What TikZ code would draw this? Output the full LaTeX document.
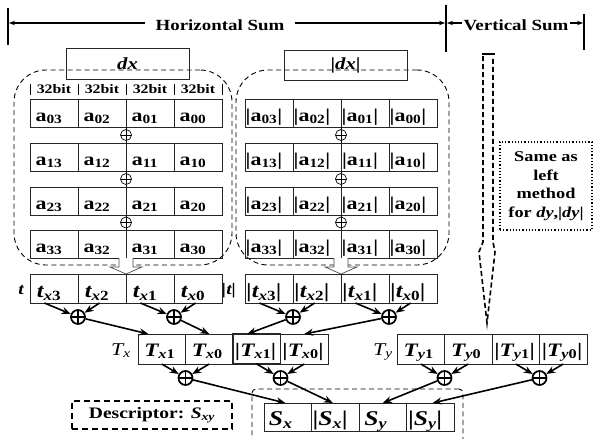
\documentclass[tikz,border=0pt]{standalone}
\usepackage{fontspec}
\setmainfont{Liberation Serif}[FakeStretch=1.22]
\usetikzlibrary{arrows.meta,calc}
\begin{document}
\begin{tikzpicture}[x=1pt,y=-1pt,
  cell/.style={draw=black!85, line width=0.8pt, minimum width=48pt, minimum height=28pt, inner sep=0pt, outer sep=0pt, anchor=north west},
  xcell/.style={cell, minimum width=47.5pt, minimum height=30pt},
  txt/.style={anchor=base, inner sep=0pt, font=\fontsize{18}{18}\selectfont\bfseries},
  ttxt/.style={anchor=base, inner sep=0pt, font=\fontsize{19}{19}\selectfont\bfseries\itshape},
  sop/.style={circle, draw, line width=0.7pt, minimum size=11pt, inner sep=0pt,
    path picture={\draw[line width=0.7pt] (path picture bounding box.north) -- (path picture bounding box.south) (path picture bounding box.west) -- (path picture bounding box.east);}},
  bop/.style={circle, draw, line width=1.7pt, minimum size=14pt, inner sep=0pt,
    path picture={\draw[line width=1.7pt] (path picture bounding box.north) -- (path picture bounding box.south) (path picture bounding box.west) -- (path picture bounding box.east);}},
  arr/.style={line width=1.6pt, -{Stealth[length=9pt,width=7pt]}},
  hdr/.style={line width=1.3pt, -{Stealth[length=6pt,width=4.5pt]}},
  bar/.style={line width=1.8pt},
  dsh/.style={draw, dashed, dash pattern=on 5pt off 3.5pt, line width=0.9pt},
  hd/.style={inner sep=0pt, font=\fontsize{15.5}{15.5}\selectfont\bfseries},
]
\useasboundingbox[fill=white] (0,0) rectangle (595,439);

% ---------- header ----------
\coordinate (hb1t) at (8,8); \coordinate (hb1b) at (8,45);
\coordinate (hb2t) at (446,5); \coordinate (hb2b) at (446,52);
\coordinate (hb3t) at (584,14); \coordinate (hb3b) at (584,50);
\draw[bar] (hb1t) -- (hb1b);
\draw[bar] (hb2t) -- (hb2b);
\draw[bar] (hb3t) -- (hb3b);
\node[hd] (hs) at (220,25) {Horizontal Sum};
\node[hd] (vs) at (516,25) {Vertical Sum};
\draw[hdr] ([xshift=-10pt]hs.west |- 0,23) -- (9,23);
\draw[hdr] ([xshift=10pt]hs.east |- 0,23) -- (445,23);
\draw[hdr] ([xshift=-1pt]vs.west |- 0,23) -- (447,23);
\draw[hdr] ([xshift=1pt]vs.east |- 0,23) -- (583,23);

% ---------- dashed groups ----------
\node[dsh, rounded corners=32pt, minimum width=218pt, minimum height=195pt, inner sep=0pt] (LG) at (123,167.5) {};
\node[dsh, rounded corners=32pt, minimum width=213pt, minimum height=195pt, inner sep=0pt] (RG) at (342.5,167.5) {};

% dx boxes
\node[draw=black!85, line width=0.8pt, minimum width=123pt, minimum height=31pt, inner sep=0pt, font=\fontsize{17}{17}\selectfont\bfseries\itshape] (DX) at (127.5,63.5) {dx};
\node[draw=black!85, line width=0.8pt, minimum width=123pt, minimum height=30pt, inner sep=0pt, font=\fontsize{17}{17}\selectfont\bfseries] (ADX) at (345.5,65) {|\textit{dx}|};

% 32bit labels
\foreach \ci in {0,...,3} {
  \node[inner sep=0pt, font=\fontsize{13}{13}\selectfont\bfseries] (B\ci) at ({54+48*\ci},89.5) {32bit};
}
\foreach \ci in {0,...,4} {
  \draw[line width=0.7pt] ({30+48*\ci},84) -- ({30+48*\ci},95);
}

% ---------- a cells ----------
\foreach \ri/\yy in {0/99,1/143,2/187,3/230} {
  \foreach \ci in {0,...,3} {
    \pgfmathtruncatemacro\idx{3-\ci}
    \node[cell] (L\ri\ci) at ({30+48*\ci},\yy) {};
    \node[txt] (LT\ri\ci) at ($(L\ri\ci.south)+(-5,-6)$) {a\textsubscript{\ri\idx}};
    \node[cell] (R\ri\ci) at ({245+48*\ci},\yy) {};
    \node[txt] (RT\ri\ci) at ($(R\ri\ci.south)+(-5,-6)$) {|a\textsubscript{\ri\idx}|};
  }
}
\node[sop] (LP1) at (126,135) {};
\node[sop] (LP2) at (126,179) {};
\node[sop] (LP3) at (126,222.5) {};
\node[sop] (RP1) at (341,135) {};
\node[sop] (RP2) at (341,179) {};
\node[sop] (RP3) at (341,222.5) {};
\foreach \g in {L,R} {
  \draw[line width=0.7pt] (\g01.south east) -- (\g P1.north) (\g P1.south) -- (\g11.north east);
  \draw[line width=0.7pt] (\g11.south east) -- (\g P2.north) (\g P2.south) -- (\g21.north east);
  \draw[line width=0.7pt] (\g21.south east) -- (\g P3.north) (\g P3.south) -- (\g31.north east);
}

% hollow arrows
\foreach \cx in {126,341} {
  \draw[line width=0.7pt, draw=black!70, fill=white] (\cx-7,258) -- (\cx-7,267) -- (\cx-16,267) -- (\cx,274) -- (\cx+16,267) -- (\cx+7,267) -- (\cx+7,258);
}

% ---------- t rows ----------
\foreach \ci in {0,...,3} {
  \pgfmathtruncatemacro\idx{3-\ci}
  \node[cell, minimum height=29pt] (T\ci) at ({30+48*\ci},274) {};
  \node[ttxt, font=\fontsize{20}{20}\selectfont\bfseries\itshape] (TT\ci) at ($(T\ci.south)+(-5,-6)$) {t\textsubscript{x\textup{\idx}}};
  \node[cell, minimum height=29pt] (U\ci) at ({245+48*\ci},274) {};
  \node[ttxt, font=\fontsize{20}{20}\selectfont\bfseries\itshape] (UT\ci) at ($(U\ci.south)+(-5,-6)$) {|t\textsubscript{x\textup{\idx}}|};
}
\node[ttxt, font=\fontsize{16}{16}\selectfont\bfseries\itshape] (tl) at (21,294) {t};
\node[ttxt, font=\fontsize{16}{16}\selectfont\bfseries\itshape] (atl) at (229,294) {|t|};

\node[bop] (TP0) at (78,317) {};
\node[bop] (TP1) at (174,317) {};
\node[bop] (UP0) at (293,317) {};
\node[bop] (UP1) at (389,317) {};
\draw[arr] ($(T0.south west)!0.3!(T0.south east)$) -- (TP0);
\draw[arr] ($(T1.south west)!0.45!(T1.south east)$) -- (TP0);
\draw[arr] ($(T2.south west)!0.3!(T2.south east)$) -- (TP1);
\draw[arr] ($(T3.south west)!0.45!(T3.south east)$) -- (TP1);
\draw[arr] ($(U0.south west)!0.3!(U0.south east)$) -- (UP0);
\draw[arr] ($(U1.south west)!0.45!(U1.south east)$) -- (UP0);
\draw[arr] ($(U2.south west)!0.3!(U2.south east)$) -- (UP1);
\draw[arr] ($(U3.south west)!0.45!(U3.south east)$) -- (UP1);

% ---------- Tx / Ty rows ----------
\node[xcell] (X0) at (138,334) {};
\node[xcell] (X1) at (185.5,334) {};
\node[xcell, line width=1.6pt] (X2) at (233,334) {};
\node[xcell] (X3) at (280.5,334) {};
\node[xcell] (Y0) at (397,334) {};
\node[xcell] (Y1) at (444.5,334) {};
\node[xcell] (Y2) at (492,334) {};
\node[xcell] (Y3) at (539.5,334) {};
\node[ttxt] (XT0) at ($(X0.south)+(-2,-8)$) {T\textsubscript{x\textup{1}}};
\node[ttxt] (XT1) at ($(X1.south)+(-2,-8)$) {T\textsubscript{x\textup{0}}};
\node[ttxt] (XT2) at ($(X2.south)+(-1,-8)$) {|T\textsubscript{x\textup{1}}|};
\node[ttxt] (XT3) at ($(X3.south)+(-1,-8)$) {|T\textsubscript{x\textup{0}}|};
\node[ttxt] (YT0) at ($(Y0.south)+(-2,-8)$) {T\textsubscript{y\textup{1}}};
\node[ttxt] (YT1) at ($(Y1.south)+(-2,-8)$) {T\textsubscript{y\textup{0}}};
\node[ttxt] (YT2) at ($(Y2.south)+(-1,-8)$) {|T\textsubscript{y\textup{1}}|};
\node[ttxt] (YT3) at ($(Y3.south)+(-1,-8)$) {|T\textsubscript{y\textup{0}}|};
\node[ttxt, font=\fontsize{18}{18}\selectfont\itshape] (txl) at (121,355) {T\textsubscript{x}};
\node[ttxt, font=\fontsize{18}{18}\selectfont\itshape] (tyl) at (383,355) {T\textsubscript{y}};

\draw[arr] (TP0) -- ($(X0.north west)!0.22!(X0.north east)$);
\draw[arr] (TP1) -- ($(X1.north west)!0.5!(X1.north east)$);
\draw[arr] (UP0) -- ($(X2.north west)!0.3!(X2.north east)$);
\draw[arr] (UP1) -- ($(X3.north west)!0.5!(X3.north east)$);

\node[bop] (XP0) at (185.5,378) {};
\node[bop] (XP1) at (280.5,378) {};
\node[bop] (YP0) at (444.5,378) {};
\node[bop] (YP1) at (539.5,378) {};
\draw[arr] (X0.south) -- (XP0);
\draw[arr] (X1.south) -- (XP0);
\draw[arr] (X2.south) -- (XP1);
\draw[arr] (X3.south) -- (XP1);
\draw[arr] (Y0.south) -- (YP0);
\draw[arr] (Y1.south) -- (YP0);
\draw[arr] (Y2.south) -- (YP1);
\draw[arr] (Y3.south) -- (YP1);

% ---------- S row ----------
\node[dsh, minimum width=211pt, minimum height=54pt, inner sep=0pt, rounded corners=4pt] (SG) at (357.5,416) {};
\foreach \ci in {0,...,3} {
  \node[cell, minimum width=47.5pt] (S\ci) at ({264+47.5*\ci},403) {};
}
\node[ttxt, font=\fontsize{21}{21}\selectfont\bfseries\itshape] (ST0) at ($(S0.south)+(-7,-6)$) {S\textsubscript{x}};
\node[ttxt, font=\fontsize{21}{21}\selectfont\bfseries\itshape] (ST1) at ($(S1.south)+(-5,-6)$) {|S\textsubscript{x}|};
\node[ttxt, font=\fontsize{21}{21}\selectfont\bfseries\itshape] (ST2) at ($(S2.south)+(-7,-6)$) {S\textsubscript{y}};
\node[ttxt, font=\fontsize{21}{21}\selectfont\bfseries\itshape] (ST3) at ($(S3.south)+(-5,-6)$) {|S\textsubscript{y}|};
\draw[arr] (XP0) -- ($(S0.north west)!0.45!(S0.north east)$);
\draw[arr] (XP1) -- ($(S1.north west)!0.45!(S1.north east)$);
\draw[arr] (YP0) -- ($(S2.north west)!0.5!(S2.north east)$);
\draw[arr] (YP1) -- ($(S3.north west)!0.55!(S3.north east)$);

% descriptor
\node[draw, dashed, dash pattern=on 6pt off 4pt, line width=1.6pt, minimum width=160pt, minimum height=28pt, inner sep=0pt, font=\fontsize{16}{16}\selectfont\bfseries] (DS) at (152,415) {Descriptor: \textit{S}\textsubscript{\textit{xy}}};

% ---------- vertical sum ----------
\draw[dashed, dash pattern=on 5pt off 3pt, line width=1.6pt] (483,56) -- (483,242) -- (479,252) -- (487,323) -- (495,252) -- (493,242) -- (493,56);
\draw[line width=1.4pt] (481.5,54) -- (494.5,54);
\node[draw, dotted, line width=1.2pt, minimum width=92pt, minimum height=88pt, inner sep=0pt, align=center, font=\fontsize{15}{18.5}\selectfont\bfseries] (SA) at (546,186) {Same as\\left\\method\\for \textit{dy},|\textit{dy}|};

\end{tikzpicture}
\end{document}
